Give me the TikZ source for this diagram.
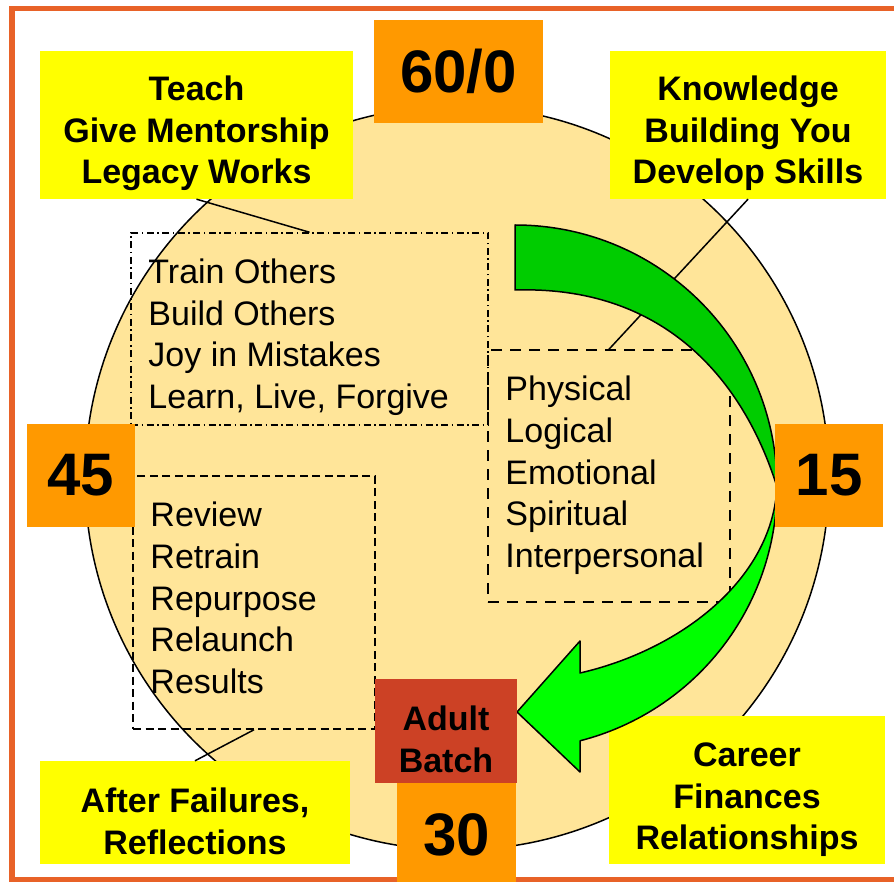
\documentclass[tikz,border=0pt]{standalone}
\usepackage{fontspec}
\setmainfont{Liberation Sans}
\usetikzlibrary{positioning, calc}
\definecolor{ringfill}{HTML}{FFE599}
\definecolor{numorange}{HTML}{FF9900}
\definecolor{noteyellow}{HTML}{FFFF00}
\definecolor{batchred}{HTML}{CC4125}
\definecolor{framered}{RGB}{232,98,40}
\definecolor{arrowdark}{HTML}{00CC00}
\definecolor{arrowlight}{HTML}{00FF00}

\begin{document}
\begin{tikzpicture}[
    x=1pt, y=-1pt,
    numbox/.style={rectangle, fill=numorange, minimum width=108pt, minimum height=103pt, inner sep=0pt, font=\fontsize{60}{66}\selectfont\bfseries},
    note/.style={rectangle, fill=noteyellow, inner sep=0pt},
    notetext/.style={align=center, inner sep=0pt, anchor=north, font=\fontsize{34}{41.7}\selectfont\bfseries},
    listbox/.style={rectangle, draw=black, line width=1.5pt, inner sep=0pt},
    listtext/.style={align=left, inner sep=0pt, anchor=north west, font=\fontsize{34}{41.7}\selectfont},
    leader/.style={draw=black, line width=1.5pt}
]

    \useasboundingbox (0,0) rectangle (894,882);
    \fill[white] (0,0) rectangle (894,882);
    \draw[framered, line width=5.5pt] (12,8.5) rectangle (910,879.5);

    % the cycle
    \draw[fill=ringfill, line width=1.5pt] (457,478) circle[radius=372];

    % dashed lists
    \node[listbox, dash pattern=on 7pt off 3.5pt on 1.5pt off 3.5pt, minimum width=357pt, minimum height=192pt] (train) at (309.5,329) {};
    \node[listbox, dash pattern=on 11pt off 8pt, minimum width=242pt, minimum height=252pt] (physical) at (609,476) {};
    \node[listbox, dash pattern=on 8pt off 4.5pt, minimum width=242pt, minimum height=253pt] (review) at (254,602.5) {};

    % callouts
    \node[note, minimum width=313pt, minimum height=148pt] (teach) at (196.5,125) {};
    \node[note, minimum width=276pt, minimum height=148pt] (knowledge) at (748,125) {};
    \node[note, minimum width=310pt, minimum height=103pt] (failures) at (195,812.5) {};
    \node[note, minimum width=276pt, minimum height=148pt] (career) at (747,790) {};

    \draw[leader] (teach.south) -- (train.north);
    \draw[leader] (knowledge.south) -- (physical.north);
    \draw[leader] (failures.north) -- (review.south);

    % green arrow, back and front part
    \filldraw[fill=arrowdark, line width=1.5pt, line join=round]
        (515,225) arc[start angle=-90, end angle=0, radius=262]
        .. controls (750,400) and (680,285) .. (515,290) -- cycle;
    \filldraw[fill=arrowlight, line width=1.5pt, line join=round]
        (777,487) arc[start angle=0, end angle=75.6, radius=262]
        -- (580,772) -- (517,712) -- (580,641) -- (580,673)
        .. controls (680,650) and (772,580) .. (777,487) -- cycle;

    % ages
    \node[numbox, minimum width=169pt] (zero) at (458.5,71.5) {60/0};
    \node[numbox] (fifteen) at (829,475.5) {15};
    \node[numbox] (fortyfive) at (81,475.5) {45};
    \node[numbox, minimum width=119pt] (thirty) at (456.5,834.5) {30};
    \node[rectangle, fill=batchred, minimum width=142pt, minimum height=104pt, inner sep=0pt] (batch) at (446,731) {};

    % texts
    \node[notetext] (teachtxt) at ([yshift=-24.7pt]teach.north) {Teach\\Give Mentorship\\Legacy Works};
    \node[notetext] (knowtxt) at ([yshift=-24.7pt]knowledge.north) {Knowledge\\Building You\\Develop Skills};
    \node[notetext] (failtxt) at ([yshift=-26.7pt]failures.north) {After Failures,\\Reflections};
    \node[notetext] (careertxt) at ([yshift=-26.7pt]career.north) {Career\\Finances\\Relationships};
    \node[notetext] (batchtxt) at ([yshift=-26.7pt]batch.north) {Adult\\Batch};

    \node[listtext] (traintxt) at ([xshift=18pt, yshift=-26.5pt]train.north west) {Train Others\\Build Others\\Joy in Mistakes\\Learn, Live, Forgive};
    \node[listtext] (physicaltxt) at ([xshift=18pt, yshift=-26.7pt]physical.north west) {Physical\\Logical\\Emotional\\Spiritual\\Interpersonal};
    \node[listtext] (reviewtxt) at ([xshift=18pt, yshift=-26.7pt]review.north west) {Review\\Retrain\\Repurpose\\Relaunch\\Results};

\end{tikzpicture}
\end{document}
